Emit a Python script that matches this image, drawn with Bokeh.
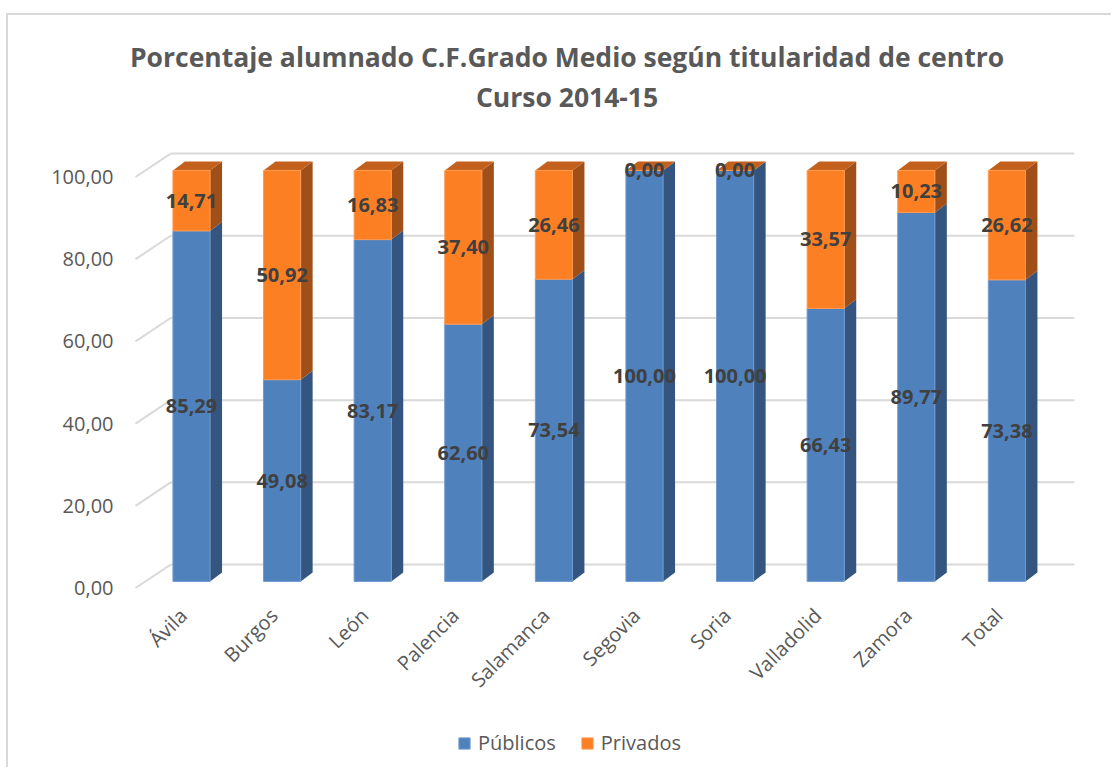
import math
from bokeh.plotting import figure
from bokeh.models import FixedTicker, Legend, LegendItem, Range1d
from bokeh.core.properties import value
from bokeh.embed import file_html
from bokeh.resources import INLINE

# ---------------- data ----------------
categories = ["Ávila", "Burgos", "León", "Palencia", "Salamanca",
              "Segovia", "Soria", "Valladolid", "Zamora", "Total"]
publicos = [85.29, 49.08, 83.17, 62.60, 73.54, 100.00, 100.00, 66.43, 89.77, 73.38]
privados = [14.71, 50.92, 16.83, 37.40, 26.46, 0.00, 0.00, 33.57, 10.23, 26.62]
y_ticks = [0, 20, 40, 60, 80, 100]
y_tick_labels = ["0,00", "20,00", "40,00", "60,00", "80,00", "100,00"]
title_lines = ["Porcentaje alumnado C.F.Grado Medio según titularidad de centro",
               "Curso 2014-15"]
series_names = ["Públicos", "Privados"]

# ---------------- styling / 3D geometry ----------------
BAR_W = 0.41        # bar width in category units
DX, DY = 0.132, 2.2 # bar depth (side / top faces)
FRONT_OFF = 1.6     # bar front plane above the axis plane
WALL_DY = 5.7       # back wall offset
WALL_X0, WALL_X1 = -0.23, 9.745
SIDE_X0 = -0.618
XLAB_DX, XLAB_Y = -0.09, -5.8   # category label anchor (below the floor)
TITLE_X, TITLE_Y = 4.145, (129.1, 119.4)

BLUE, BLUE_SIDE, BLUE_EDGE = "#4F81BD", "#34557F", "#6F9AD0"
ORANGE, ORANGE_SIDE, ORANGE_TOP, ORANGE_EDGE = "#FD7F23", "#A04F18", "#C3611C", "#FF9A50"
GRID = "#D9D9D9"
TEXT = "#595959"
LABEL = "#404040"
FONT = "Open Sans"

p = figure(width=1105, height=754, output_backend="svg", toolbar_location=None,
           x_range=Range1d(-0.7837, 10.033), y_range=Range1d(-43.92, 138.08),
           min_border_left=112, min_border_right=13, min_border_top=5,
           min_border_bottom=1)
# chart-area border (left / top edges, as in the reference)
p.margin = (13, 0, 0, 6)
p.styles = {"border-left": "2px solid #D9D9D9", "border-top": "2px solid #D9D9D9"}
p.outline_line_color = None
p.xgrid.visible = False
p.ygrid.visible = False
p.background_fill_color = "white"
p.border_fill_color = "white"

n = len(categories)
idx = list(range(n))

# back wall gridlines + left side-wall diagonals
wall_y = [t + WALL_DY for t in y_ticks]
p.segment(x0=[WALL_X0] * len(y_ticks), y0=wall_y, x1=[WALL_X1] * len(y_ticks), y1=wall_y,
          line_color=GRID, line_width=2)
p.segment(x0=[SIDE_X0] * len(y_ticks), y0=y_ticks, x1=[WALL_X0] * len(y_ticks), y1=wall_y,
          line_color=GRID, line_width=2)

pub_b = [FRONT_OFF] * n
pub_t = [v + FRONT_OFF for v in publicos]
priv_t = [a + b + FRONT_OFF for a, b in zip(publicos, privados)]

# side faces
def side(bottoms, tops):
    xs, ys = [], []
    for i, b, t in zip(idx, bottoms, tops):
        r = i + BAR_W / 2
        xs.append([r, r + DX, r + DX, r])
        ys.append([b, b + DY, t + DY, t])
    return xs, ys

sx, sy = side(pub_b, pub_t)
p.patches(xs=sx, ys=sy, fill_color=BLUE_SIDE, line_color=None)
sx, sy = side(pub_t, priv_t)
p.patches(xs=sx, ys=sy, fill_color=ORANGE_SIDE, line_color=None)

# top faces
tx, ty = [], []
for i, t in zip(idx, priv_t):
    l, r = i - BAR_W / 2, i + BAR_W / 2
    tx.append([l, r, r + DX, l + DX])
    ty.append([t, t, t + DY, t + DY])
p.patches(xs=tx, ys=ty, fill_color=ORANGE_TOP, line_color=None)

# front faces
r_pub = p.vbar(x=idx, bottom=pub_b, top=pub_t, width=BAR_W,
               fill_color=BLUE, line_color=BLUE_EDGE, line_width=1)
r_priv = p.vbar(x=idx, bottom=pub_t, top=priv_t, width=BAR_W,
                fill_color=ORANGE, line_color=ORANGE_EDGE, line_width=1)

# data labels
def fmt(v):
    return f"{v:.2f}".replace(".", ",")

p.text(x=idx, y=[FRONT_OFF + v / 2 for v in publicos], text=[fmt(v) for v in publicos],
       text_font=value(FONT), text_font_style="bold", text_font_size="20px",
       text_color=LABEL, text_align="center", text_baseline="middle")
p.text(x=idx, y=[FRONT_OFF + a + b / 2 for a, b in zip(publicos, privados)],
       text=[fmt(v) for v in privados],
       text_font=value(FONT), text_font_style="bold", text_font_size="20px",
       text_color=LABEL, text_align="center", text_baseline="middle")

# category labels (rotated 45°)
p.text(x=[i + XLAB_DX for i in idx], y=[XLAB_Y] * n, text=categories, angle=math.pi / 4,
       text_font=value(FONT), text_font_size="20px", text_color=TEXT,
       text_align="right", text_baseline="middle")

# title
p.text(x=[TITLE_X, TITLE_X], y=list(TITLE_Y), text=title_lines,
       text_font=value(FONT), text_font_style="bold", text_font_size="26.5px",
       text_color=TEXT, text_align="center", text_baseline="middle")

# y axis
p.yaxis.ticker = FixedTicker(ticks=y_ticks)
p.yaxis.major_label_overrides = {t: s for t, s in zip(y_ticks, y_tick_labels)}
p.yaxis.axis_line_color = None
p.yaxis.major_tick_line_color = None
p.yaxis.minor_tick_line_color = None
p.yaxis.major_tick_out = 0
p.yaxis.major_tick_in = 0
p.yaxis.major_label_standoff = 7
p.yaxis.major_label_text_font = FONT
p.yaxis.major_label_text_font_size = "20px"
p.yaxis.major_label_text_color = TEXT
p.xaxis.visible = False

legend = Legend(items=[LegendItem(label=series_names[0], renderers=[r_pub]),
                       LegendItem(label=series_names[1], renderers=[r_priv])],
                orientation="horizontal", location=(337, 12),
                label_text_font=FONT, label_text_font_size="20px",
                label_text_color=TEXT, glyph_width=14, glyph_height=14,
                spacing=24, label_standoff=7, padding=0, margin=0,
                border_line_color=None, background_fill_alpha=0)
p.add_layout(legend, "center")

open("out.html", "w").write(file_html(p, INLINE))
